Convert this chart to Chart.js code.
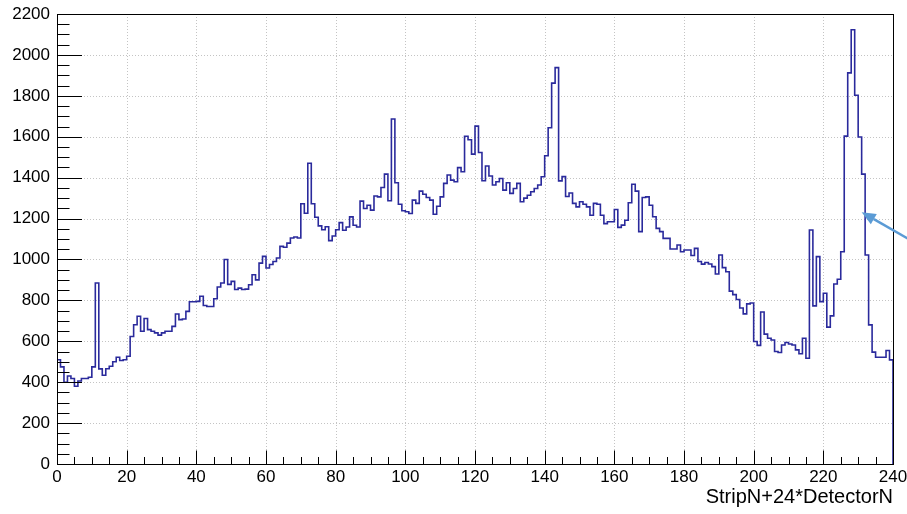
<!DOCTYPE html>
<html>
<head>
<meta charset="utf-8">
<script src="https://cdn.jsdelivr.net/npm/chart.js@4.4.1/dist/chart.umd.min.js"></script>
<style>
  html, body { margin: 0; padding: 0; background: #fff; }
</style>
</head>
<body>
<canvas id="chart" width="907" height="514"></canvas>
<script>
// counts per bin, bins 0..239 (one bin per strip)
const counts = [
  510, 475, 400, 430, 418, 380, 406, 418, 418, 424,
  475, 885, 465, 434, 466, 478, 500, 522, 506, 510,
  527, 623, 681, 722, 649, 711, 657, 649, 641, 630,
  641, 649, 649, 673, 733, 706, 709, 746, 793, 793,
  795, 820, 775, 770, 770, 808, 865, 885, 1000, 878,
  893, 853, 860, 853, 855, 876, 925, 900, 982, 1015,
  958, 975, 990, 1007, 1064, 1060, 1080, 1105, 1110, 1105,
  1272, 1226, 1470, 1272, 1206, 1164, 1145, 1160, 1092, 1115,
  1145, 1180, 1143, 1159, 1208, 1167, 1159, 1285, 1249, 1265,
  1241, 1310, 1306, 1352, 1417, 1287, 1687, 1375, 1270, 1238,
  1233, 1225, 1290, 1274, 1334, 1319, 1303, 1290, 1221, 1260,
  1306, 1372, 1413, 1388, 1380, 1449, 1429, 1602, 1585, 1515,
  1652, 1523, 1385, 1457, 1408, 1364, 1380, 1396, 1339, 1375,
  1323, 1347, 1372, 1282, 1300, 1314, 1331, 1347, 1364, 1404,
  1507, 1644, 1862, 1938, 1384, 1405, 1308, 1325, 1274, 1257,
  1282, 1270, 1257, 1216, 1274, 1270, 1216, 1175, 1184, 1184,
  1244, 1157, 1168, 1192, 1277, 1368, 1334, 1136, 1303, 1306,
  1265, 1209, 1152, 1136, 1103, 1103, 1051, 1051, 1071, 1038,
  1046, 1046, 1019, 1054, 990, 977, 985, 978, 965, 929,
  1022, 960, 940, 845, 828, 804, 763, 734, 783, 787,
  599, 580, 743, 635, 615, 606, 550, 545, 582, 594,
  587, 582, 558, 539, 615, 517, 1144, 773, 1014, 794,
  835, 669, 724, 880, 903, 1038, 1603, 1912, 2123, 1803,
  1599, 1417, 1022, 680, 547, 522, 522, 522, 555, 509
];
const xRange = [0, 240];
const yRange = [0, 2200];
const xMajorStep = 20, xMinorStep = 5;
const yMajorStep = 200, yMinorStep = 50;
const xTitle = 'StripN+24*DetectorN';

const FONT = '"Liberation Sans", Arial, Helvetica, sans-serif';

// histogram outline: value of point i holds until the next point
const outline = [{ x: 0, y: 0 }];
counts.forEach((c, i) => outline.push({ x: i, y: c }));
outline.push({ x: counts.length, y: counts[counts.length - 1] });
outline.push({ x: counts.length, y: 0 });

function range(lo, hi, step) {
  const out = [];
  for (let v = lo; v <= hi + 1e-9; v += step) out.push(v);
  return out;
}

// ROOT-like frame: dotted grid, inward ticks, box, and the arrow annotation
const rootFrame = {
  id: 'rootFrame',
  beforeDatasetsDraw(chart) {
    const { ctx, chartArea: a, scales: { x, y } } = chart;
    ctx.save();
    ctx.strokeStyle = '#c4c4c4';
    ctx.lineWidth = 1;
    ctx.setLineDash([1, 2]);
    ctx.beginPath();
    range(xRange[0], xRange[1], xMajorStep).forEach((v) => {
      const px = Math.round(x.getPixelForValue(v)) + 0.5;
      ctx.moveTo(px, a.top);
      ctx.lineTo(px, a.bottom);
    });
    range(yRange[0], yRange[1], yMajorStep).forEach((v) => {
      const py = Math.round(y.getPixelForValue(v)) + 0.5;
      ctx.moveTo(a.left, py);
      ctx.lineTo(a.right, py);
    });
    ctx.stroke();
    ctx.restore();
  },
  afterDatasetsDraw(chart) {
    const { ctx, chartArea: a, scales: { x, y } } = chart;
    ctx.save();
    ctx.strokeStyle = '#000';
    ctx.lineWidth = 1;
    ctx.beginPath();
    range(xRange[0], xRange[1], xMinorStep).forEach((v) => {
      const px = Math.round(x.getPixelForValue(v)) + 0.5;
      const len = v % xMajorStep === 0 ? 13.5 : 7;
      ctx.moveTo(px, a.bottom);
      ctx.lineTo(px, a.bottom - len);
    });
    range(yRange[0], yRange[1], yMinorStep).forEach((v) => {
      const py = Math.round(y.getPixelForValue(v)) + 0.5;
      const len = v % yMajorStep === 0 ? 25 : 12.5;
      ctx.moveTo(a.left, py);
      ctx.lineTo(a.left + len, py);
    });
    ctx.stroke();
    ctx.strokeRect(Math.round(a.left) + 0.5, Math.round(a.top) + 0.5,
      Math.round(a.right - a.left), Math.round(a.bottom - a.top));

    // arrow pointing at the right flank of the big peak
    const tipX = x.getPixelForValue(231), tipY = y.getPixelForValue(1231);
    const tailX = x.getPixelForValue(245), tailY = y.getPixelForValue(1095);
    const ang = Math.atan2(tipY - tailY, tipX - tailX);
    const head = 14, half = 6;
    const bx = tipX - head * Math.cos(ang), by = tipY - head * Math.sin(ang);
    ctx.strokeStyle = '#5b9bd5';
    ctx.fillStyle = '#5b9bd5';
    ctx.lineWidth = 2.5;
    ctx.beginPath();
    ctx.moveTo(tailX, tailY);
    ctx.lineTo(bx, by);
    ctx.stroke();
    ctx.beginPath();
    ctx.moveTo(tipX, tipY);
    ctx.lineTo(bx + half * Math.sin(ang), by - half * Math.cos(ang));
    ctx.lineTo(bx - half * Math.sin(ang), by + half * Math.cos(ang));
    ctx.closePath();
    ctx.fill();
    ctx.restore();
  }
};

new Chart(document.getElementById('chart'), {
  type: 'line',
  data: {
    datasets: [{
      data: outline,
      stepped: 'before',
      borderColor: '#2a2a9c',
      borderWidth: 1.6,
      pointRadius: 0,
      fill: false
    }]
  },
  options: {
    responsive: false,
    animation: false,
    events: [],
    layout: { padding: { top: 14, right: 14, left: 0, bottom: 0 } },
    plugins: { legend: { display: false }, tooltip: { enabled: false } },
    scales: {
      x: {
        type: 'linear',
        min: xRange[0],
        max: xRange[1],
        afterFit: (s) => { s.height = 50; s.paddingLeft = 0; s.paddingRight = 0; },
        grid: { display: false, drawTicks: false },
        border: { display: false },
        ticks: {
          stepSize: xMajorStep,
          padding: 3,
          maxRotation: 0,
          autoSkip: false,
          color: '#000',
          font: { family: FONT, size: 17 },
          callback: (v) => String(v)
        },
        title: {
          display: true,
          text: xTitle,
          align: 'end',
          color: '#000',
          font: { family: FONT, size: 20 },
          padding: { top: 0, bottom: 5 }
        }
      },
      y: {
        type: 'linear',
        min: yRange[0],
        max: yRange[1],
        afterFit: (s) => { s.width = 57; s.paddingTop = 0; s.paddingBottom = 0; },
        grid: { display: false, drawTicks: false },
        border: { display: false },
        ticks: {
          stepSize: yMajorStep,
          padding: 7,
          color: '#000',
          font: { family: FONT, size: 17 },
          callback: (v) => String(v)
        }
      }
    }
  },
  plugins: [rootFrame]
});
</script>
</body>
</html>
